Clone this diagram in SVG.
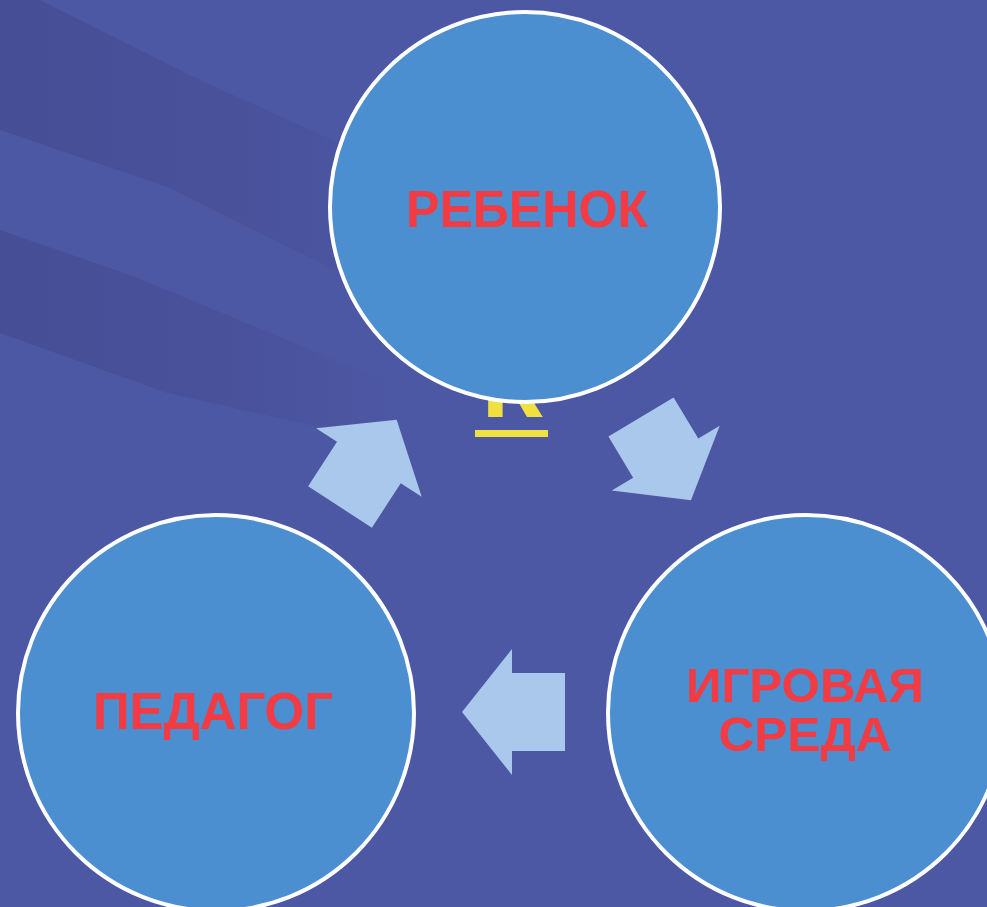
<svg xmlns="http://www.w3.org/2000/svg" width="987" height="907" viewBox="0 0 987 907">
  <defs>
    <style>
      .node circle { fill: #4b8fd1; stroke: #ffffff; stroke-width: 4; }
      .lbl { font-family: "Liberation Sans", Arial, sans-serif; font-weight: bold; font-size: 52px; fill: #f23b42; text-anchor: middle; }
      .lbl2 { font-size: 49px; }
      .arrow { fill: #a9c8ec; }
      .band { fill: url(#bandFade); }
    </style>
    <linearGradient id="bandFade" x1="0" y1="0" x2="1" y2="0">
      <stop offset="0" stop-color="#3e4282" stop-opacity="0.45"/>
      <stop offset="0.6" stop-color="#3e4282" stop-opacity="0.3"/>
      <stop offset="1" stop-color="#3e4282" stop-opacity="0"/>
    </linearGradient>
  </defs>
  <rect x="0" y="0" width="987" height="907" fill="#4d58a5"/>
  <g id="background">
    <polygon class="band" points="0,0 40,0 200,80 340,143 420,180 420,300 340,273 170,188 0,130"/>
    <polygon class="band" points="0,230 133,276 340,362 400,385 400,450 340,432 167,393 0,333"/>
  </g>
  <g id="title-fragment">
    <text x="512" y="417" font-family="Liberation Sans, Arial, sans-serif" font-weight="bold" font-size="100" fill="#f0e040" text-anchor="middle">К</text>
    <rect x="475" y="430" width="73" height="7" fill="#f0e040"/>
  </g>
  <g id="connectors">
    <path class="arrow" transform="translate(340,507) rotate(-57)" d="M0,-38 L53,-38 L53,-63 L104,0 L53,63 L53,38 L0,38 Z"/>
    <path class="arrow" transform="translate(641,417) rotate(59)" d="M0,-38 L48,-38 L48,-63 L97,0 L48,63 L48,38 L0,38 Z"/>
    <path class="arrow" transform="translate(565,712) rotate(180)" d="M0,-39 L53,-39 L53,-63 L103,0 L53,63 L53,39 L0,39 Z"/>
  </g>
  <g id="node-rebenok" class="node">
    <circle cx="525" cy="207" r="195"/>
    <text class="lbl" x="527" y="227" textLength="242" lengthAdjust="spacingAndGlyphs">РЕБЕНОК</text>
  </g>
  <g id="node-pedagog" class="node">
    <circle cx="216" cy="713" r="198"/>
    <text class="lbl" x="213" y="729" textLength="240" lengthAdjust="spacingAndGlyphs">ПЕДАГОГ</text>
  </g>
  <g id="node-sreda" class="node">
    <circle cx="806" cy="713" r="198"/>
    <text class="lbl lbl2" x="805" y="702" textLength="238" lengthAdjust="spacingAndGlyphs">ИГРОВАЯ</text>
    <text class="lbl lbl2" x="805" y="751" textLength="173" lengthAdjust="spacingAndGlyphs">СРЕДА</text>
  </g>
</svg>
